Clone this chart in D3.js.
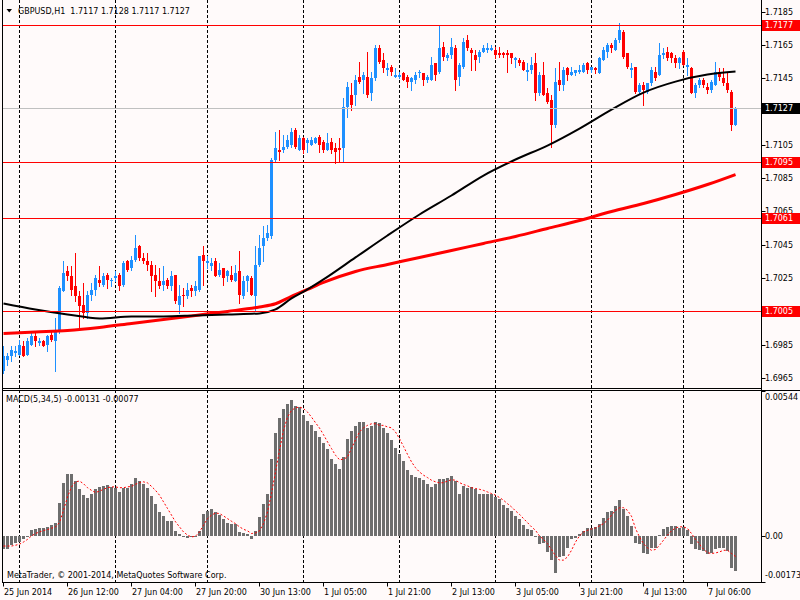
<!DOCTYPE html>
<html>
<head>
<meta charset="utf-8">
<script src="https://cdn.jsdelivr.net/npm/d3@7"></script>
<style>
  body { margin: 0; background: #fffafa; }
  svg { display: block; }
  text { white-space: pre; }
</style>
</head>
<body>
<div id="chart"></div>
<script>
const width = 800;
const height = 600;

// GBPUSD H1 candles, oldest first
const opens = [
  1.6969,1.6976,1.6978,1.6980,1.6979,1.6984,1.6979,1.6985,1.6990,1.6986,
  1.6987,1.6985,1.6991,1.6987,1.6993,1.7017,1.7029,1.7026,1.7020,1.7014,
  1.7009,1.7004,1.7015,1.7018,1.7024,1.7021,1.7027,1.7023,1.7025,1.7027,
  1.7021,1.7035,1.7031,1.7036,1.7044,1.7037,1.7035,1.7033,1.7027,1.7023,
  1.7021,1.7024,1.7020,1.7027,1.7009,1.7015,1.7014,1.7019,1.7017,1.7018,
  1.7039,1.7034,1.7032,1.7035,1.7027,1.7031,1.7026,1.7027,1.7023,1.7029,
  1.7014,1.7023,1.7025,1.7014,1.7033,1.7044,1.7049,1.7050,1.7096,1.7102,
  1.7102,1.7104,1.7105,1.7114,1.7102,1.7109,1.7106,1.7105,1.7106,1.7110,
  1.7107,1.7102,1.7107,1.7103,1.7103,1.7103,1.7128,1.7135,1.7135,1.7146,
  1.7144,1.7146,1.7136,1.7145,1.7163,1.7156,1.7150,1.7152,1.7146,1.7146,
  1.7148,1.7146,1.7143,1.7144,1.7148,1.7148,1.7144,1.7144,1.7154,1.7149,
  1.7164,1.7157,1.7159,1.7163,1.7146,1.7152,1.7168,1.7162,1.7159,1.7158,
  1.7161,1.7162,1.7162,1.7162,1.7160,1.7160,1.7160,1.7160,1.7156,1.7156,
  1.7155,1.7149,1.7150,1.7154,1.7136,1.7147,1.7136,1.7132,1.7117,1.7144,
  1.7141,1.7151,1.7147,1.7148,1.7149,1.7149,1.7154,1.7150,1.7151,1.7148,
  1.7156,1.7161,1.7165,1.7162,1.7168,1.7173,1.7160,1.7150,1.7152,1.7137,
  1.7141,1.7137,1.7142,1.7149,1.7147,1.7159,1.7161,1.7160,1.7157,1.7154,
  1.7161,1.7152,1.7151,1.7136,1.7141,1.7144,1.7140,1.7138,1.7141,1.7149,
  1.7145,1.7142,1.7137,1.7117
];
const highs = [
  1.6984,1.6980,1.6984,1.6984,1.6988,1.6987,1.6989,1.6993,1.6992,1.6989,
  1.6988,1.6991,1.6993,1.7001,1.7020,1.7035,1.7032,1.7032,1.7040,1.7017,
  1.7022,1.7017,1.7022,1.7027,1.7032,1.7028,1.7028,1.7025,1.7029,1.7028,
  1.7035,1.7036,1.7038,1.7051,1.7045,1.7040,1.7040,1.7035,1.7033,1.7031,
  1.7032,1.7025,1.7029,1.7027,1.7021,1.7019,1.7022,1.7021,1.7023,1.7038,
  1.7044,1.7038,1.7037,1.7037,1.7034,1.7031,1.7030,1.7032,1.7033,1.7041,
  1.7026,1.7027,1.7026,1.7044,1.7051,1.7056,1.7057,1.7097,1.7113,1.7114,
  1.7111,1.7111,1.7115,1.7115,1.7111,1.7110,1.7109,1.7110,1.7110,1.7111,
  1.7108,1.7112,1.7109,1.7106,1.7109,1.7133,1.7143,1.7142,1.7147,1.7155,
  1.7149,1.7161,1.7149,1.7165,1.7165,1.7160,1.7154,1.7153,1.7151,1.7149,
  1.7149,1.7147,1.7146,1.7149,1.7150,1.7148,1.7147,1.7158,1.7154,1.7177,
  1.7167,1.7160,1.7169,1.7165,1.7154,1.7169,1.7171,1.7163,1.7162,1.7162,
  1.7165,1.7166,1.7165,1.7164,1.7164,1.7161,1.7162,1.7160,1.7158,1.7157,
  1.7156,1.7154,1.7158,1.7160,1.7149,1.7155,1.7139,1.7135,1.7151,1.7155,
  1.7152,1.7152,1.7152,1.7150,1.7153,1.7154,1.7155,1.7152,1.7152,1.7158,
  1.7164,1.7166,1.7166,1.7169,1.7178,1.7174,1.7160,1.7154,1.7152,1.7142,
  1.7143,1.7142,1.7152,1.7152,1.7166,1.7163,1.7164,1.7161,1.7159,1.7158,
  1.7162,1.7157,1.7152,1.7142,1.7145,1.7145,1.7142,1.7144,1.7155,1.7151,
  1.7151,1.7148,1.7138,1.7128
];
const lows = [
  1.6968,1.6973,1.6975,1.6978,1.6979,1.6978,1.6979,1.6985,1.6984,1.6985,
  1.6984,1.6981,1.6987,1.6969,1.6992,1.7017,1.7024,1.7015,1.7011,1.6994,
  1.7001,1.7001,1.7012,1.7015,1.7020,1.7020,1.7019,1.7020,1.7023,1.7018,
  1.7020,1.7029,1.7030,1.7035,1.7036,1.7034,1.7030,1.7017,1.7014,1.7019,
  1.7018,1.7019,1.7018,1.7010,1.7004,1.7008,1.7013,1.7014,1.7015,1.7017,
  1.7021,1.7031,1.7030,1.7026,1.7026,1.7021,1.7023,1.7023,1.7023,1.7010,
  1.7013,1.7017,1.7015,1.7006,1.7032,1.7035,1.7048,1.7049,1.7095,1.7096,
  1.7101,1.7103,1.7104,1.7103,1.7102,1.7100,1.7101,1.7105,1.7106,1.7101,
  1.7101,1.7102,1.7100,1.7094,1.7095,1.7095,1.7122,1.7126,1.7129,1.7142,
  1.7136,1.7134,1.7132,1.7144,1.7154,1.7149,1.7147,1.7147,1.7146,1.7145,
  1.7144,1.7140,1.7138,1.7142,1.7146,1.7141,1.7143,1.7144,1.7144,1.7148,
  1.7156,1.7156,1.7157,1.7138,1.7141,1.7151,1.7162,1.7150,1.7150,1.7155,
  1.7161,1.7161,1.7162,1.7157,1.7158,1.7158,1.7149,1.7154,1.7152,1.7153,
  1.7150,1.7144,1.7148,1.7132,1.7135,1.7135,1.7130,1.7104,1.7116,1.7138,
  1.7138,1.7144,1.7147,1.7147,1.7148,1.7149,1.7148,1.7149,1.7148,1.7148,
  1.7156,1.7158,1.7161,1.7162,1.7167,1.7157,1.7151,1.7146,1.7136,1.7136,
  1.7129,1.7136,1.7141,1.7144,1.7147,1.7157,1.7156,1.7155,1.7152,1.7151,
  1.7153,1.7147,1.7136,1.7134,1.7140,1.7140,1.7136,1.7137,1.7141,1.7144,
  1.7141,1.7137,1.7114,1.7117
];
const closes = [
  1.6978,1.6978,1.6982,1.6981,1.6985,1.6978,1.6987,1.6990,1.6987,1.6987,
  1.6984,1.6990,1.6988,1.6993,1.7019,1.7028,1.7026,1.7018,1.7014,1.7008,
  1.7004,1.7015,1.7018,1.7025,1.7022,1.7026,1.7024,1.7024,1.7026,1.7020,
  1.7034,1.7030,1.7036,1.7043,1.7037,1.7035,1.7033,1.7026,1.7023,1.7020,
  1.7023,1.7020,1.7026,1.7011,1.7014,1.7014,1.7018,1.7017,1.7020,1.7038,
  1.7035,1.7035,1.7034,1.7026,1.7030,1.7025,1.7029,1.7024,1.7028,1.7015,
  1.7023,1.7026,1.7015,1.7033,1.7043,1.7049,1.7052,1.7096,1.7103,1.7101,
  1.7104,1.7108,1.7113,1.7104,1.7109,1.7102,1.7108,1.7108,1.7109,1.7105,
  1.7102,1.7106,1.7102,1.7101,1.7102,1.7128,1.7140,1.7129,1.7144,1.7143,
  1.7147,1.7135,1.7145,1.7163,1.7155,1.7151,1.7151,1.7149,1.7147,1.7147,
  1.7144,1.7143,1.7145,1.7147,1.7149,1.7144,1.7146,1.7153,1.7147,1.7163,
  1.7158,1.7159,1.7164,1.7144,1.7153,1.7167,1.7163,1.7160,1.7156,1.7161,
  1.7163,1.7163,1.7163,1.7159,1.7159,1.7159,1.7159,1.7157,1.7157,1.7154,
  1.7150,1.7150,1.7153,1.7136,1.7147,1.7135,1.7131,1.7117,1.7143,1.7141,
  1.7150,1.7147,1.7149,1.7150,1.7150,1.7153,1.7150,1.7152,1.7150,1.7157,
  1.7162,1.7165,1.7163,1.7168,1.7174,1.7158,1.7152,1.7151,1.7137,1.7141,
  1.7138,1.7142,1.7150,1.7145,1.7159,1.7160,1.7157,1.7157,1.7154,1.7157,
  1.7153,1.7153,1.7136,1.7141,1.7144,1.7141,1.7138,1.7143,1.7149,1.7146,
  1.7142,1.7138,1.7117,1.7127
];

// moving averages, read at these bar indices
const maBars = [0,8,16,24,32,40,48,56,64,68,72,76,80,88,96,104,112,120,128,136,144,152,160,168,176,183];
const maBlack = [1.70098,1.70062,1.70032,1.70008,1.70020,1.70020,1.70026,1.70032,1.70038,1.70062,1.70128,1.70182,1.70242,
  1.70374,1.70506,1.70632,1.70746,1.70866,1.70962,1.71046,1.71148,1.71262,1.71364,1.71430,1.71472,1.71490];
const maRed = [1.69918,1.69927,1.69936,1.69954,1.69978,1.70002,1.70026,1.70050,1.70077,1.70096,1.70140,1.70182,1.70224,
  1.70290,1.70332,1.70374,1.70416,1.70458,1.70500,1.70548,1.70596,1.70650,1.70698,1.70752,1.70812,1.70872];

// MACD(5,34,5) in points (0.00001)
const macdHist = [
  -50,-48,-34,-25,-21,-13,-3,23,25,29,
  31,34,40,48,125,198,231,231,206,175,
  154,144,156,175,184,188,191,184,181,165,
  179,181,194,219,206,194,181,150,119,88,
  75,56,56,19,6,-4,-6,-4,-4,19,
  81,94,100,88,78,63,50,44,44,13,
  10,6,-10,19,71,119,156,288,388,444,
  475,494,509,488,485,453,431,415,394,371,
  350,325,288,269,250,296,363,394,413,429,
  429,406,413,429,425,406,388,359,331,309,
  281,246,228,223,219,209,194,184,196,213,
  215,219,225,206,156,188,181,184,175,159,
  156,156,156,146,138,115,103,94,75,65,
  40,25,21,-2,-31,-25,-59,-90,-141,-81,
  -75,-44,-13,-6,6,19,28,31,34,44,
  69,88,94,113,134,100,75,38,-25,-31,
  -63,-69,-44,-44,3,25,34,38,38,31,
  34,21,-31,-50,-54,-56,-69,-63,-50,-44,
  -44,-56,-119,-131
];
const macdSignal = [
  -38,-38,-38,-35,-31,-23,-13,0,9,15,
  20,24,29,34,50,96,146,184,203,206,
  196,181,171,163,168,175,181,184,184,181,
  181,184,186,194,200,203,199,186,171,153,
  128,103,78,53,34,15,3,-4,-1,15,
  40,65,78,86,84,75,65,55,46,34,
  25,19,9,11,19,46,90,159,240,321,
  396,446,471,481,484,478,465,446,425,405,
  380,353,328,303,286,288,296,328,361,390,
  406,415,421,421,415,415,409,406,390,365,
  336,306,278,256,240,228,219,209,203,199,
  200,206,211,209,200,193,188,181,178,175,
  171,165,159,153,144,134,121,109,94,81,
  65,50,34,21,0,-13,-29,-51,-75,-91,
  -91,-79,-54,-23,0,15,21,26,30,38,
  46,59,78,96,106,106,96,74,28,-4,
  -29,-45,-54,-51,-35,-16,3,19,30,34,
  34,28,9,-13,-31,-50,-63,-66,-64,-60,
  -54,-54,-66,-77
];
const POINT = 0.00001;

const timeLabels = ["25 Jun 2014","26 Jun 12:00","27 Jun 04:00","27 Jun 20:00","30 Jun 13:00","1 Jul 05:00",
  "1 Jul 21:00","2 Jul 13:00","3 Jul 05:00","3 Jul 21:00","4 Jul 13:00","7 Jul 06:00"];
const timeLabelBars = [0,16,32,48,64,80,96,112,128,144,160,176];
const gridBars = [4,28,51,75,99,123,147,170];
const priceTicks = [1.7185,1.7165,1.7145,1.7125,1.7105,1.7085,1.7065,1.7045,1.7025,1.7005,1.6985,1.6965];
const levelLines = [1.7177,1.7095,1.7061,1.7005];
const bidPrice = 1.7127;
const macdRange = [-0.00173, 0.00544];

const bull = "#1e90ff", bear = "#ff0000";

// layout
const axisX = 761.5;
const mainBottom = 388.5, macdTop = 390.5, macdBottom = 582.5;

const x = d3.scaleLinear().domain([0, 183]).range([3.5, 735.5]);
const y = d3.scaleLinear().domain([1.6959, 1.7192]).range([388, 0]);
const ym = d3.scaleLinear().domain(macdRange).range([582, 391]);

const svg = d3.select('#chart')
  .append('svg')
  .attr('width', width)
  .attr('height', height)
  .style('font-family', '"DejaVu Sans", sans-serif')
  .style('font-size', '8px');

svg.append('rect').attr('width', width).attr('height', height).attr('fill', '#fffafa');

// vertical dashed grid across both panels
svg.append('g').selectAll('line')
  .data(gridBars)
  .join('line')
    .attr('x1', d => Math.floor(x(d)) + 0.5)
    .attr('x2', d => Math.floor(x(d)) + 0.5)
    .attr('y1', 0)
    .attr('y2', macdBottom)
    .attr('stroke', '#000')
    .attr('stroke-dasharray', '3,2');

// candles
const px = i => Math.floor(x(i));
const candles = svg.append('g').attr('shape-rendering', 'crispEdges')
  .selectAll('g')
  .data(d3.range(closes.length))
  .join('g')
    .attr('fill', i => closes[i] > opens[i] ? bull : bear);

candles.append('rect')
  .attr('x', i => px(i))
  .attr('width', 1)
  .attr('y', i => Math.round(y(highs[i])))
  .attr('height', i => Math.max(1, Math.round(y(lows[i])) - Math.round(y(highs[i])) + 1));

candles.append('rect')
  .attr('x', i => px(i) - 1)
  .attr('width', 3)
  .attr('y', i => Math.round(y(Math.max(opens[i], closes[i]))))
  .attr('height', i => Math.max(1, Math.round(y(Math.min(opens[i], closes[i]))) - Math.round(y(Math.max(opens[i], closes[i])))));

// moving averages
const maLine = vals => d3.line()
  .x((d, k) => x(maBars[k]))
  .y(d => y(d))
  .curve(d3.curveMonotoneX)(vals);

svg.append('path').attr('d', maLine(maRed))
  .attr('fill', 'none').attr('stroke', '#ff0000').attr('stroke-width', 3);
svg.append('path').attr('d', maLine(maBlack))
  .attr('fill', 'none').attr('stroke', '#000').attr('stroke-width', 2);

// horizontal level lines and bid line
svg.append('g').attr('shape-rendering', 'crispEdges').selectAll('line')
  .data(levelLines)
  .join('line')
    .attr('x1', 2).attr('x2', axisX)
    .attr('y1', d => Math.round(y(d)) + 0.5)
    .attr('y2', d => Math.round(y(d)) + 0.5)
    .attr('stroke', '#ff0000');

svg.append('line')
  .attr('x1', 2).attr('x2', axisX)
  .attr('y1', Math.round(y(bidPrice)) + 0.5)
  .attr('y2', Math.round(y(bidPrice)) + 0.5)
  .attr('stroke', '#c0c0c0')
  .attr('shape-rendering', 'crispEdges');

// MACD histogram
const zeroY = Math.round(ym(0));
svg.append('g').attr('shape-rendering', 'crispEdges').selectAll('rect')
  .data(macdHist)
  .join('rect')
    .attr('x', (d, i) => px(i) - 1)
    .attr('width', 3)
    .attr('y', d => d >= 0 ? Math.round(ym(d * POINT)) : zeroY)
    .attr('height', d => Math.max(1, Math.abs(zeroY - Math.round(ym(d * POINT)))))
    .attr('fill', '#6e6e6e');

svg.append('path')
  .attr('d', d3.line().x((d, i) => x(i)).y(d => ym(d * POINT))(macdSignal))
  .attr('fill', 'none')
  .attr('stroke', '#ff0000')
  .attr('stroke-width', 1)
  .attr('stroke-dasharray', '2,2');

// panel frames
const frame = svg.append('g').attr('stroke', '#000').attr('shape-rendering', 'crispEdges');
frame.append('line').attr('x1', 2.5).attr('x2', 2.5).attr('y1', 0).attr('y2', macdBottom);
frame.append('line').attr('x1', axisX).attr('x2', axisX).attr('y1', 0).attr('y2', macdBottom);
frame.append('line').attr('x1', 2.5).attr('x2', axisX).attr('y1', mainBottom).attr('y2', mainBottom);
frame.append('line').attr('x1', 2.5).attr('x2', width).attr('y1', macdTop).attr('y2', macdTop);
frame.append('line').attr('x1', 2.5).attr('x2', axisX).attr('y1', macdBottom).attr('y2', macdBottom);

// price boxes: the red levels and the black bid box
const boxData = levelLines.map(v => ({ v, color: '#ff0000' })).concat([{ v: bidPrice, color: '#000' }]);
const boxTop = d => Math.round(y(d.v)) - 5;
const boxH = 11;

// price axis; a tick label under a box is hidden or cut at the box, as on the terminal
const defs = svg.append('defs');
const priceAxis = svg.append('g');
priceAxis.selectAll('line')
  .data(priceTicks)
  .join('line')
    .attr('x1', axisX).attr('x2', axisX + 4)
    .attr('y1', d => Math.round(y(d)) + 0.5)
    .attr('y2', d => Math.round(y(d)) + 0.5)
    .attr('stroke', '#000');

priceTicks.forEach((t, k) => {
  const ty = y(t);
  const cover = boxData.find(b => Math.abs(y(b.v) - ty) < 10);
  if (cover && Math.abs(y(cover.v) - ty) < 5) return; // fully behind a box
  let label = priceAxis.append('text')
    .attr('x', 765)
    .attr('y', ty)
    .attr('dy', '0.36em')
    .text(t.toFixed(4));
  if (cover) {
    const id = 'clip-tick-' + k;
    const above = ty < y(cover.v);
    defs.append('clipPath').attr('id', id).append('rect')
      .attr('x', 762).attr('width', 38)
      .attr('y', above ? ty - 10 : boxTop(cover) + boxH)
      .attr('height', above ? boxTop(cover) - (ty - 10) : 10);
    label.attr('clip-path', `url(#${id})`);
  }
});

const boxes = svg.append('g').selectAll('g')
  .data(boxData)
  .join('g');
boxes.append('rect')
  .attr('x', 762).attr('width', 38)
  .attr('y', boxTop).attr('height', boxH)
  .attr('fill', d => d.color);
boxes.append('text')
  .attr('x', 765)
  .attr('y', d => Math.round(y(d.v)) + 0.5)
  .attr('dy', '0.36em')
  .attr('fill', '#fff')
  .text(d => d.v.toFixed(4));

// MACD axis
const macdTicks = [macdRange[1], 0, macdRange[0]];
svg.append('g').selectAll('line')
  .data(macdTicks)
  .join('line')
    .attr('x1', axisX).attr('x2', axisX + 4)
    .attr('y1', d => Math.round(ym(d)) + 0.5)
    .attr('y2', d => Math.round(ym(d)) + 0.5)
    .attr('stroke', '#000');
svg.append('g').selectAll('text')
  .data(macdTicks)
  .join('text')
    .attr('x', 765)
    .attr('y', d => d === macdRange[1] ? ym(d) + 6 : d === macdRange[0] ? ym(d) - 7 : ym(d))
    .attr('dy', '0.36em')
    .text(d => d === 0 ? '0.00' : d.toFixed(5));

// time axis
const timeAxis = svg.append('g');
timeAxis.selectAll('line')
  .data(timeLabelBars)
  .join('line')
    .attr('x1', d => px(d) + 0.5).attr('x2', d => px(d) + 0.5)
    .attr('y1', macdBottom).attr('y2', macdBottom + 4)
    .attr('stroke', '#000');
timeAxis.selectAll('text')
  .data(timeLabels)
  .join('text')
    .attr('x', (d, k) => px(timeLabelBars[k]) + 1)
    .attr('y', 595)
    .text(d => d);

// headers
svg.append('path').attr('d', 'M6.5,9 L12,9 L9.25,12.5 Z').attr('fill', '#000');
svg.append('text').attr('x', 18).attr('y', 14)
  .text(`GBPUSD,H1  ${opens[183].toFixed(4)} ${highs[183].toFixed(4)} ${lows[183].toFixed(4)} ${closes[183].toFixed(4)}`);
svg.append('text').attr('x', 6).attr('y', 402)
  .text(`MACD(5,34,5) ${(macdHist[183] * POINT).toFixed(5)} ${(macdSignal[183] * POINT).toFixed(5)}`);
svg.append('text').attr('x', 7).attr('y', 578)
  .text('MetaTrader, © 2001-2014, MetaQuotes Software Corp.');
</script>
</body>
</html>
